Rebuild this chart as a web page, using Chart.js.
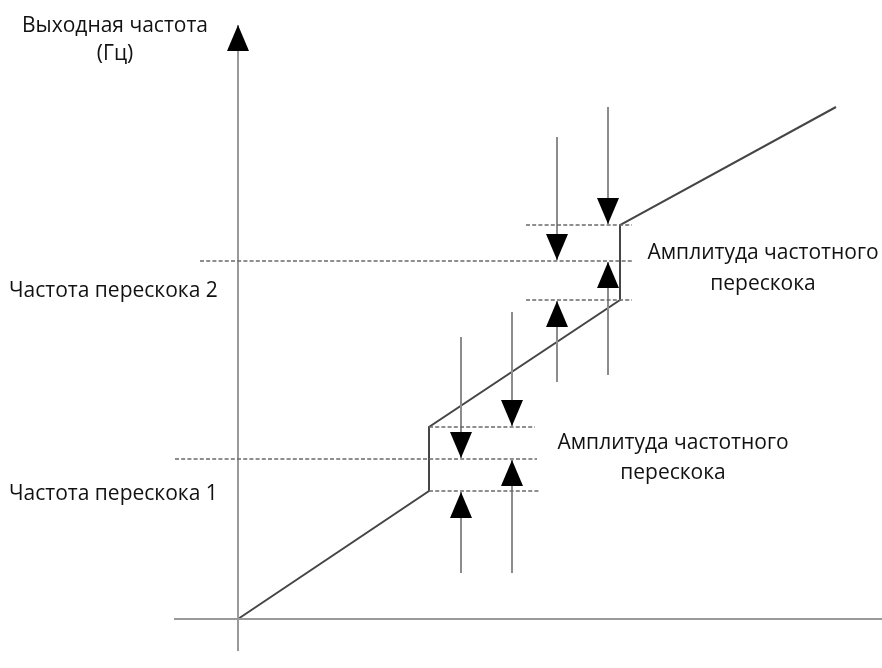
<!DOCTYPE html>
<html><head><meta charset="utf-8">
<script src="https://cdn.jsdelivr.net/npm/chart.js@4/dist/chart.umd.min.js"></script>
<style>html,body{margin:0;padding:0;background:#fff}</style>
</head><body>
<canvas id="c" width="882" height="668"></canvas>
<script>
// ---- Data (chart units: x = input frequency, y = output frequency) ----
const curveX = [0, 191, 191, 382, 382, 598];
const curveY = [0, 128, 192, 319, 394, 512];
const jumpFreqs = [160, 358];          // Частота перескока 1, 2
const bandLow  = [128, 319];           // lower edge of jump band
const bandHigh = [192, 394];           // upper edge of jump band
const jumpLabels = ['Частота перескока 1', 'Частота перескока 2'];
const amplitudeLabel = ['Амплитуда частотного', 'перескока'];
const axisTitle = ['Выходная частота', '(Гц)'];
// arrows: x position, start of shaft
const arrowX = [223, 274, 319, 370];
const arrowDownStart = [282, 307, 482, 512];
const arrowDownTip = [jumpFreqs[0], bandHigh[0], jumpFreqs[1], bandHigh[1]];
const arrowUpStart = [46, 46, 237, 244];
const arrowUpTip = [bandLow[0], jumpFreqs[0], bandLow[1], jumpFreqs[1]];
// dashed reference line extents
const jumpLineFrom = [-63, -38];
const jumpLineTo = [299, 394];
const bandLineFrom = [191, 288];
const bandLowTo = [302, 394];
const bandHighTo = [297, 394];
// axes extents
const xAxisRange = [-64, 644];
const yAxisRange = [-32, 594];

const datasets = [];
const dashStyle = {borderColor:'#6a6a6a', borderWidth:1.3, borderDash:[4,2.2]};
for (let i=0;i<2;i++){
  datasets.push({data:[{x:jumpLineFrom[i],y:jumpFreqs[i]},{x:jumpLineTo[i],y:jumpFreqs[i]}], ...dashStyle});
  datasets.push({data:[{x:bandLineFrom[i],y:bandLow[i]},{x:bandLowTo[i],y:bandLow[i]}], ...dashStyle});
  datasets.push({data:[{x:bandLineFrom[i],y:bandHigh[i]},{x:bandHighTo[i],y:bandHigh[i]}], ...dashStyle});
}
// axes
datasets.push({data:[{x:xAxisRange[0],y:0},{x:xAxisRange[1],y:0}], borderColor:'#9a9a9a', borderWidth:2});
datasets.push({data:[{x:0,y:yAxisRange[0]},{x:0,y:yAxisRange[1]}], borderColor:'#9a9a9a', borderWidth:2, arrowHead:true});
// arrows
for (let i=0;i<arrowX.length;i++){
  datasets.push({data:[{x:arrowX[i],y:arrowDownStart[i]},{x:arrowX[i],y:arrowDownTip[i]+1}], borderColor:'#8c8c8c', borderWidth:2, arrowHead:true});
  datasets.push({data:[{x:arrowX[i],y:arrowUpStart[i]},{x:arrowX[i],y:arrowUpTip[i]-1}], borderColor:'#8c8c8c', borderWidth:2, arrowHead:true});
}
// main curve
datasets.push({data:curveX.map((x,i)=>({x, y:curveY[i]})), borderColor:'#454545', borderWidth:2});

const arrowPlugin = {
  id:'arrows',
  afterDatasetsDraw(chart){
    const ctx = chart.ctx;
    chart.data.datasets.forEach((ds,di)=>{
      if(!ds.arrowHead) return;
      const pts = chart.getDatasetMeta(di).data;
      const a = pts[pts.length-2], b = pts[pts.length-1];
      const dx=b.x-a.x, dy=b.y-a.y, L=Math.hypot(dx,dy);
      const ux=dx/L, uy=dy/L, len=26, hw=11;
      const bx=b.x-ux*len, by=b.y-uy*len;
      ctx.save();
      ctx.fillStyle='#000';
      ctx.beginPath();
      ctx.moveTo(b.x,b.y);
      ctx.lineTo(bx-uy*hw, by+ux*hw);
      ctx.lineTo(bx+uy*hw, by-ux*hw);
      ctx.closePath();
      ctx.fill();
      ctx.restore();
    });
  }
};

const FONT = '21px "Open Sans"';
const textPlugin = {
  id:'texts',
  afterDraw(chart){
    const ctx=chart.ctx, xs=chart.scales.x, ys=chart.scales.y;
    ctx.save();
    ctx.fillStyle='#111';
    ctx.font=FONT;
    ctx.textBaseline='alphabetic';
    // axis title
    ctx.textAlign='center';
    ctx.fillText(axisTitle[0], xs.getPixelForValue(-123), ys.getPixelForValue(587));
    ctx.fillText(axisTitle[1], xs.getPixelForValue(-123), ys.getPixelForValue(559));
    // jump frequency labels
    ctx.textAlign='left';
    ctx.fillText(jumpLabels[1], xs.getPixelForValue(-229), ys.getPixelForValue(jumpFreqs[1]-36));
    ctx.fillText(jumpLabels[0], xs.getPixelForValue(-229), ys.getPixelForValue(jumpFreqs[0]-41));
    // amplitude labels
    ctx.textAlign='center';
    const c2 = 525, c1 = 435;
    ctx.fillText(amplitudeLabel[0], xs.getPixelForValue(c2), ys.getPixelForValue(360));
    ctx.fillText(amplitudeLabel[1], xs.getPixelForValue(c2), ys.getPixelForValue(329));
    ctx.fillText(amplitudeLabel[0], xs.getPixelForValue(c1), ys.getPixelForValue(170));
    ctx.fillText(amplitudeLabel[1], xs.getPixelForValue(c1), ys.getPixelForValue(140));
    ctx.restore();
  }
};

new Chart(document.getElementById('c'), {
  type:'scatter',
  data:{datasets: datasets.map(d=>Object.assign({showLine:true, pointRadius:0, pointHoverRadius:0, fill:false, tension:0}, d))},
  options:{
    responsive:false, animation:false, devicePixelRatio:1,
    layout:{padding:0},
    plugins:{legend:{display:false}, tooltip:{enabled:false}},
    events:[],
    scales:{
      x:{type:'linear', display:false, min:-238, max:644},
      y:{type:'linear', display:false, min:-49, max:619}
    }
  },
  plugins:[arrowPlugin, textPlugin]
});
</script>
</body></html>
